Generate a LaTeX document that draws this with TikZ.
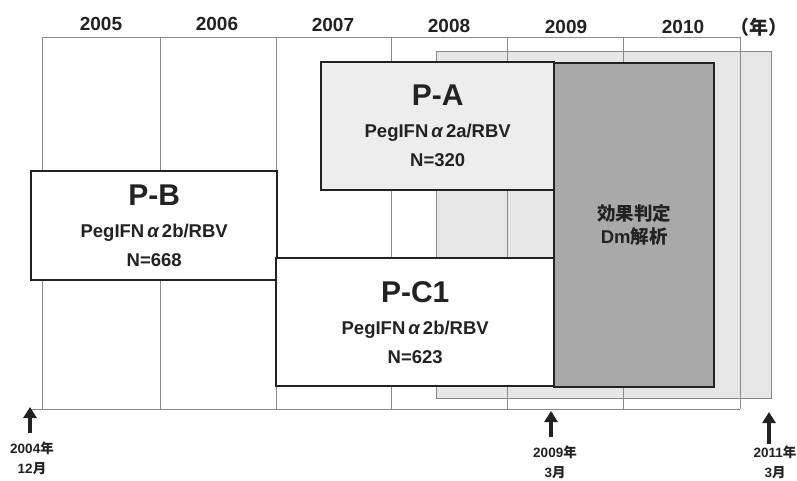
\documentclass[tikz,border=0pt]{standalone}
\usepackage{fontspec}
\setmainfont{Liberation Sans}
\newfontfamily\cjk{Noto Sans CJK JP}
\usetikzlibrary{arrows.meta}
\definecolor{gridc}{HTML}{8A8A8A}
\definecolor{lightreg}{HTML}{E6E6E6}
\definecolor{pafill}{HTML}{EDEDED}
\definecolor{darkbox}{HTML}{A9A9A9}
\definecolor{ink}{HTML}{222222}
\tikzset{
  gridline/.style={draw=gridc, line width=0.9pt},
  trialbox/.style={draw=ink, line width=2.4pt, anchor=north west, inner sep=0pt, align=center,
    font=\bfseries\fontsize{18.5}{29}\selectfont, text=ink},
  yearlbl/.style={font=\bfseries\fontsize{19}{19}\selectfont, text=ink, inner sep=0pt},
  datelbl/.style={font=\bfseries\fontsize{13.5}{20}\selectfont, text=ink, inner sep=0pt, align=center, anchor=north},
  uparrow/.style={draw=ink, line width=4pt, -{Triangle[width=13pt,length=11pt]}},
}
\newcommand{\bigtitle}[1]{{\fontsize{30}{30}\selectfont #1}}
\begin{document}
\begin{tikzpicture}[x=1pt,y=-1pt]
\useasboundingbox[fill=white] (0,0) rectangle (797,481);
% light gray region behind
\fill[lightreg] (436,51) rectangle (771,398);
% grid
\foreach \xx in {42,160,276,391,507,623,740}{
  \draw[gridline] (\xx,37) -- (\xx,409);
}
\draw[gridline] (42,37) -- (740,37);
\draw[gridline] (30,409) -- (740,409);
\draw[draw=gridc, line width=0.9pt] (436,51) rectangle (771,398);
% year labels
\node[yearlbl] (y2005) at (101,24) {2005};
\node[yearlbl] (y2006) at (217,24) {2006};
\node[yearlbl] (y2007) at (333,25) {2007};
\node[yearlbl] (y2008) at (449,26) {2008};
\node[yearlbl] (y2009) at (566,27) {2009};
\node[yearlbl] (y2010) at (683,27) {2010};
\node[yearlbl] (ynen) at (759,27) {\cjk （年）};
% boxes
\node[trialbox, fill=pafill, minimum width=233pt, minimum height=128pt] (pa) at (320,61)
  {\bigtitle{P-A}\\[3pt]PegIFN\,{\itshape α}\,2a/RBV\\N=320};
\node[trialbox, fill=darkbox, minimum width=160pt, minimum height=324pt,
  font=\bfseries\fontsize{18.5}{23}\selectfont] (dm) at (553,62)
  {{\cjk 効果判定}\\Dm{\cjk 解析}};
\node[trialbox, fill=white, minimum width=246pt, minimum height=109pt] (pb) at (30,170)
  {\bigtitle{P-B}\\[3pt]PegIFN\,{\itshape α}\,2b/RBV\\N=668};
\node[trialbox, fill=white, minimum width=278pt, minimum height=128pt] (pc) at (275,257)
  {\bigtitle{P-C1}\\[3pt]PegIFN\,{\itshape α}\,2b/RBV\\N=623};
% arrows
\coordinate (a1s) at (30,433); \coordinate (a1e) at (30,407);
\coordinate (a2s) at (551,437); \coordinate (a2e) at (551,411);
\coordinate (a3s) at (769,444); \coordinate (a3e) at (769,412);
\draw[uparrow] (a1s) -- (a1e);
\draw[uparrow] (a2s) -- (a2e);
\draw[uparrow] (a3s) -- (a3e);
\node[datelbl] (d1) at (32,442) {2004{\cjk 年}\\12{\cjk 月}};
\node[datelbl] (d2) at (555,446) {2009{\cjk 年}\\3{\cjk 月}};
\node[datelbl] (d3) at (775,446) {2011{\cjk 年}\\3{\cjk 月}};
\end{tikzpicture}
\end{document}
